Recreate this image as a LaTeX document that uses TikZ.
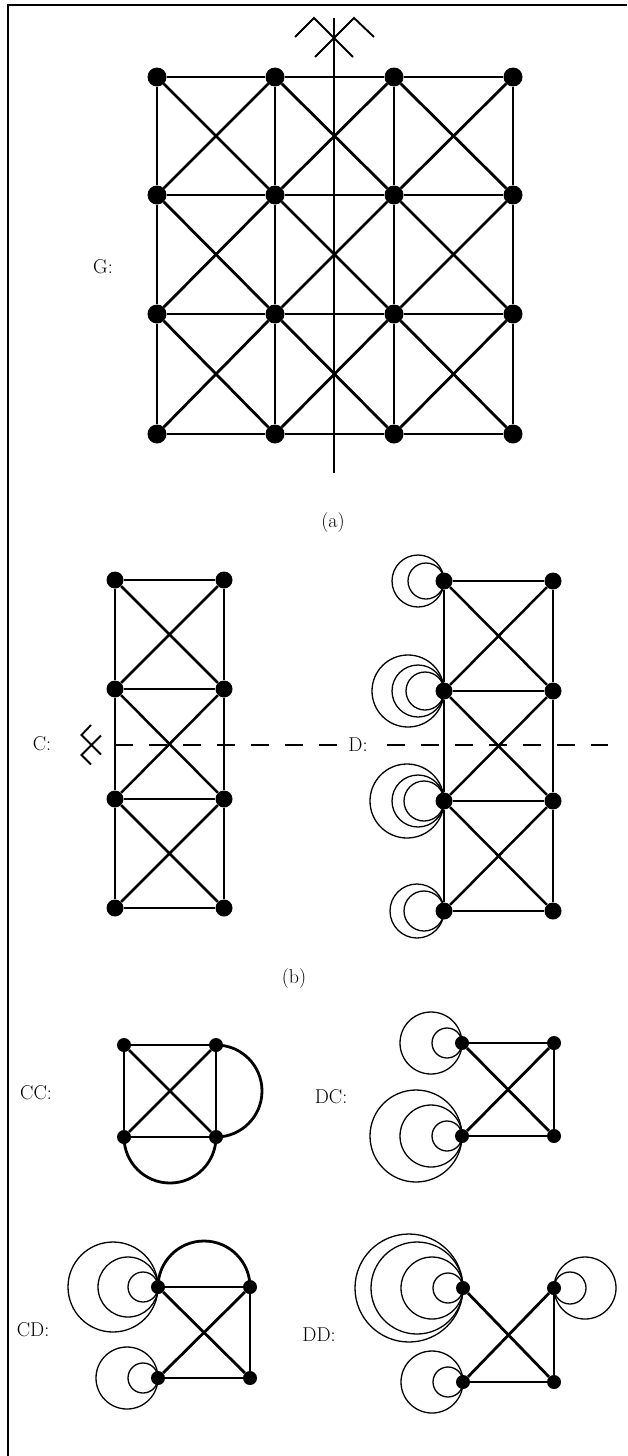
\documentclass[tikz,border=0pt]{standalone}
\usepackage{fontspec}
\usepackage{tikz}
\usetikzlibrary{positioning}

\begin{document}
\begin{tikzpicture}[
  x=1pt, y=-1pt,
  vtx/.style={circle, fill=black, inner sep=0pt, minimum size=19pt},
  svtx/.style={circle, fill=black, inner sep=0pt, minimum size=17pt},
  tvtx/.style={circle, fill=black, inner sep=0pt, minimum size=14pt},
  edge/.style={line width=2.8pt},
  sedge/.style={line width=2.5pt},
  loopc/.style={line width=1.3pt},
  axis/.style={line width=2pt},
  lbl/.style={font=\fontsize{20}{24}\selectfont},
  glide/.pic={\draw[line width=1.9pt] (-39,0) -- (-20,-19) -- (19,20) (-19,20) -- (20,-19) -- (40,0);}
]
  \useasboundingbox (0,0) rectangle (627,1456);
  \draw[line width=1.2pt] (8,1456) -- (8,5) -- (627,5);

  % (a) the graph G
  \foreach \i/\x in {1/157,2/275,3/394,4/513}
    \foreach \j/\y in {1/77,2/195,3/314,4/434}
      \node[vtx] (g\i\j) at (\x,\y) {};
  \foreach \i in {1,2,3,4}
    \foreach \j [count=\k from 2] in {1,2,3} {
      \draw[edge] (g\i\j) -- (g\i\k);
      \draw[edge] (g\j\i) -- (g\k\i);
    }
  \foreach \i [count=\ii from 2] in {1,2,3}
    \foreach \j [count=\jj from 2] in {1,2,3} {
      \draw[edge] (g\i\j) -- (g\ii\jj);
      \draw[edge] (g\ii\j) -- (g\i\jj);
    }
  \coordinate (axtop) at (334,18);
  \coordinate (axbot) at (334,473);
  \draw[axis] (axtop) -- (axbot);
  \pic at (334,37) {glide};
  \node[lbl] (glbl) at (103,267) {G:};
  \node[lbl] (capa) at (333,523) {(a)};

  % (b) the quotients C and D
  \foreach \i/\x in {1/115,2/224}
    \foreach \j/\y in {1/580,2/689,3/799,4/908}
      \node[svtx] (c\i\j) at (\x,\y) {};
  \foreach \i/\x in {1/444,2/553}
    \foreach \j/\y in {1/581,2/691,3/801,4/911}
      \node[svtx] (d\i\j) at (\x,\y) {};
  \foreach \g in {c,d} {
    \foreach \j [count=\k from 2] in {1,2,3} {
      \draw[sedge] (\g1\j) -- (\g1\k);
      \draw[sedge] (\g2\j) -- (\g2\k);
      \draw[sedge] (\g1\j) -- (\g2\k);
      \draw[sedge] (\g2\j) -- (\g1\k);
    }
    \foreach \j in {1,2,3,4}
      \draw[sedge] (\g1\j) -- (\g2\j);
  }
  \foreach \r in {18,26} \draw[loopc] (d11.center) arc[start angle=0, end angle=360, radius=\r];
  \foreach \r in {19,26,36} \draw[loopc] (d12.center) arc[start angle=0, end angle=360, radius=\r];
  \foreach \r in {20,26,37} \draw[loopc] (d13.center) arc[start angle=0, end angle=360, radius=\r];
  \foreach \r in {20,27} \draw[loopc] (d14.center) arc[start angle=0, end angle=360, radius=\r];
  \coordinate (cutl) at (115,745);
  \coordinate (cutr) at (608,745);
  \draw[line width=1.7pt, dash pattern=on 18pt off 16pt] (cutl) -- (cutr);
  \pic[rotate=90, scale=0.5] at (91,745) {glide};
  \node[lbl] (clbl) at (42,744) {C:};
  \node[lbl, fill=white, inner xsep=10pt, inner ysep=2pt] (dlbl) at (358,745) {D:};
  \node[lbl] (capb) at (294,978) {(b)};

  % CC
  \node[tvtx] (cc1) at (124,1045) {};
  \node[tvtx] (cc2) at (216,1045) {};
  \node[tvtx] (cc3) at (124,1137) {};
  \node[tvtx] (cc4) at (216,1137) {};
  \draw[edge] (cc1) -- (cc2) -- (cc4) -- (cc3) -- (cc1);
  \draw[edge] (cc1) -- (cc4);
  \draw[edge] (cc3) -- (cc2);
  \draw[edge] (cc2.center) arc[start angle=-90, end angle=90, radius=46];
  \draw[edge] (cc3.center) arc[start angle=180, end angle=0, radius=46];
  \node[lbl] (cclbl) at (36,1093) {CC:};

  % DC
  \node[tvtx] (dc1) at (462,1043) {};
  \node[tvtx] (dc2) at (554,1043) {};
  \node[tvtx] (dc3) at (462,1136) {};
  \node[tvtx] (dc4) at (554,1136) {};
  \draw[edge] (dc1) -- (dc2) -- (dc4) -- (dc3);
  \draw[edge] (dc1) -- (dc4);
  \draw[edge] (dc3) -- (dc2);
  \foreach \r in {15,31} \draw[loopc] (dc1.center) arc[start angle=0, end angle=360, radius=\r];
  \foreach \r in {15,31,46} \draw[loopc] (dc3.center) arc[start angle=0, end angle=360, radius=\r];
  \node[lbl] (dclbl) at (331,1097) {DC:};

  % CD
  \node[tvtx] (cd1) at (158,1287) {};
  \node[tvtx] (cd2) at (250,1287) {};
  \node[tvtx] (cd3) at (158,1378) {};
  \node[tvtx] (cd4) at (250,1378) {};
  \draw[edge] (cd1) -- (cd2) -- (cd4) -- (cd3);
  \draw[edge] (cd1) -- (cd4);
  \draw[edge] (cd3) -- (cd2);
  \draw[edge] (cd1.center) arc[start angle=180, end angle=360, radius=46];
  \foreach \r in {15,30,45} \draw[loopc] (cd1.center) arc[start angle=0, end angle=360, radius=\r];
  \foreach \r in {15,31} \draw[loopc] (cd3.center) arc[start angle=0, end angle=360, radius=\r];
  \node[lbl] (cdlbl) at (33,1330) {CD:};

  % DD
  \node[tvtx] (dd1) at (463,1288) {};
  \node[tvtx] (dd2) at (554,1288) {};
  \node[tvtx] (dd3) at (463,1382) {};
  \node[tvtx] (dd4) at (554,1382) {};
  \draw[edge] (dd3) -- (dd4) -- (dd2);
  \draw[edge] (dd1) -- (dd4);
  \draw[edge] (dd3) -- (dd2);
  \foreach \r in {15,31,46,54} \draw[loopc] (dd1.center) arc[start angle=0, end angle=360, radius=\r];
  \foreach \r in {16,31} \draw[loopc] (dd2.center) arc[start angle=180, end angle=540, radius=\r];
  \foreach \r in {15,31} \draw[loopc] (dd3.center) arc[start angle=0, end angle=360, radius=\r];
  \node[lbl] (ddlbl) at (319,1335) {DD:};
\end{tikzpicture}
\end{document}
